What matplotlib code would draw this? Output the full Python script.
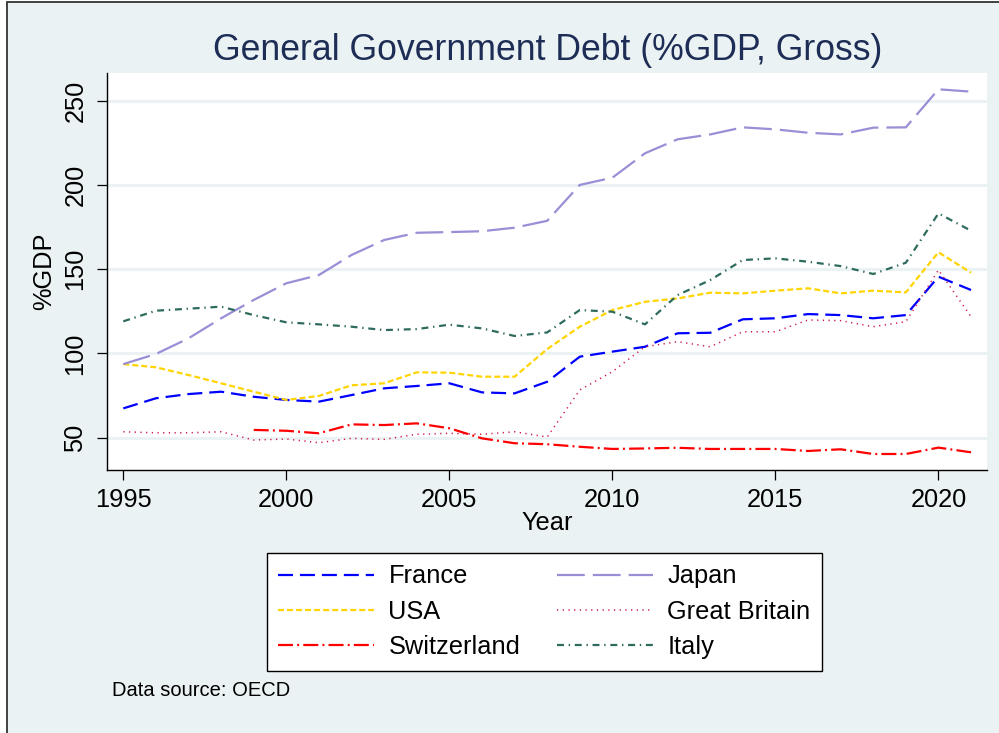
import matplotlib
matplotlib.use("Agg")
import matplotlib.pyplot as plt
from matplotlib.patches import Rectangle
import numpy as np

plt.rcParams['font.family'] = ['Liberation Sans', 'DejaVu Sans']
plt.rcParams['lines.scale_dashes'] = False

years = list(range(1995, 2022))

france = [67.3, 73.3, 75.8, 77.2, 74.2, 72.3, 71.3, 75.2, 79.2, 80.6, 82.2, 76.8, 76.2, 83.1,
          98.0, 101.0, 103.9, 111.9, 112.2, 120.2, 120.8, 123.3, 122.7, 120.8, 122.7, 145.5, 137.6]
usa = [93.6, 91.7, 87.1, 82.2, 77.2, 72.3, 74.7, 81.0, 82.2, 88.7, 88.5, 86.1, 86.1, 102.5,
       115.8, 125.7, 130.6, 132.6, 136.0, 135.6, 137.2, 138.6, 135.6, 137.2, 136.2, 160.0, 147.9]
switzerland = [np.nan, np.nan, np.nan, np.nan, 54.5, 54.0, 52.5, 57.8, 57.4, 58.4, 55.5, 49.5, 46.6, 46.0,
               44.5, 43.2, 43.5, 43.9, 43.2, 43.2, 43.2, 42.0, 43.0, 40.2, 40.2, 44.0, 41.2]
japan = [93.6, 99.6, 108.9, 120.8, 131.7, 141.6, 146.5, 158.4, 167.3, 171.6, 172.0, 172.5, 174.6, 178.7,
         200.0, 204.3, 218.8, 227.1, 230.0, 234.2, 233.0, 231.0, 230.0, 234.0, 234.2, 256.8, 255.4]
great_britain = [53.4, 52.8, 52.8, 53.4, 48.5, 49.1, 46.9, 49.5, 48.9, 51.9, 52.5, 51.9, 53.4, 50.3,
                 78.2, 89.1, 103.9, 106.9, 103.9, 112.8, 112.8, 119.8, 119.4, 115.8, 118.8, 149.5, 121.7]
italy = [119.0, 125.3, 126.5, 127.7, 122.7, 118.4, 117.2, 115.8, 113.8, 114.4, 117.0, 114.8, 110.3, 112.4,
         125.7, 124.7, 117.2, 134.6, 143.5, 155.4, 156.4, 154.4, 151.8, 147.1, 153.8, 183.1, 172.8]

x_ticks = [1995, 2000, 2005, 2010, 2015, 2020]
y_ticks = [50, 100, 150, 200, 250]

BG = '#EAF2F3'
W, H = 999, 733
fig = plt.figure(figsize=(W / 100, H / 100), dpi=100, facecolor='white')
fig.patches.append(Rectangle((7 / W, -0.05), 1.2, 1 - 2 / H + 0.05, transform=fig.transFigure,
                             facecolor=BG, edgecolor='#333333', linewidth=1.3, zorder=-10))

ax = fig.add_axes([107 / W, 1 - 470 / H, (986.7 - 107) / W, (470 - 73.3) / H])
ax.set_facecolor('white')

fs = 18.3
series = [
    ('France', france, '#0000FF', (0, (10.8, 5.0)), 1.6),
    ('USA', usa, '#FFD400', (0, (4.3, 2.2)), 1.6),
    ('Switzerland', switzerland, '#FF0000', (0, (10.8, 3.0, 1.4, 3.0)), 1.6),
    ('Japan', japan, '#9A8ED6', (0, (20.0, 5.8)), 1.6),
    ('Great Britain', great_britain, '#D01850', (0, (0.9, 3.2)), 1.1),
    ('Italy', italy, '#2E6B5E', (0, (5.0, 3.4, 1.0, 3.4)), 1.6),
]
handles = []
for name, vals, col, ls, lw in series:
    h, = ax.plot(years, vals, color=col, linestyle=ls, linewidth=lw, label=name, zorder=3)
    handles.append(h)

ax.set_xlim(1994.5, 2021.48)
ax.set_ylim(30.7, 266.3)
ax.set_xticks(x_ticks)
ax.set_yticks(y_ticks)
ax.tick_params(axis='both', labelsize=fs, length=7.2, width=0.9, color='black', direction='out')
ax.tick_params(axis='x', pad=6)
ax.tick_params(axis='y', pad=7)
for lbl in ax.get_yticklabels():
    lbl.set_rotation(90)
    lbl.set_va('center')
ax.grid(axis='y', color=BG, linewidth=2.2, zorder=1)
ax.grid(axis='x', visible=False)
ax.set_axisbelow(True)
for s in ['top', 'right']:
    ax.spines[s].set_visible(False)
for s in ['left', 'bottom']:
    ax.spines[s].set_linewidth(1.0)
    ax.spines[s].set_color('black')

ax.set_xlabel('Year', fontsize=fs, labelpad=-1)
ax.set_ylabel('%GDP', fontsize=fs, labelpad=5)
fig.text(548 / W, 1 - 50 / H, 'General Government Debt (%GDP, Gross)', fontsize=25.7,
         color='#1E2D55', ha='center', va='center')

leg = fig.legend(handles=handles, loc='upper left', bbox_to_anchor=(267 / W, 1 - 553 / H),
                 ncol=2, fontsize=fs, handlelength=3.75, handletextpad=0.58, columnspacing=1.45,
                 labelspacing=0.45, borderpad=0.45, borderaxespad=0, frameon=True, fancybox=False,
                 edgecolor='black', framealpha=1, facecolor='white')
leg.get_frame().set_linewidth(1.0)

fig.text(112 / W, 1 - 691 / H, 'Data source: OECD', fontsize=14.5, ha='left', va='center')

fig.savefig('out.png', dpi=100, facecolor=fig.get_facecolor())
